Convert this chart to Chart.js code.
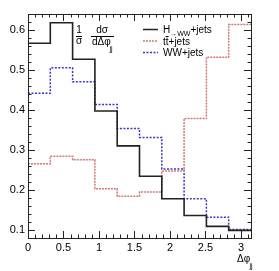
<!DOCTYPE html>
<html>
<head>
<meta charset="utf-8">
<script src="https://cdn.jsdelivr.net/npm/chart.js@4.4.1/dist/chart.umd.min.js"></script>
<style>
  body { margin: 0; background: #fff; }
</style>
</head>
<body>
<canvas id="grafica" width="279" height="271"></canvas>
<script>
// bordes de los bins en delta phi (0..pi, 10 bins)
const binEdges = [0, 0.1 * Math.PI, 0.2 * Math.PI, 0.3 * Math.PI, 0.4 * Math.PI, 0.5 * Math.PI,
  0.6 * Math.PI, 0.7 * Math.PI, 0.8 * Math.PI, 0.9 * Math.PI, Math.PI];

// valores normalizados
const higgsVals = [0.567, 0.618, 0.527, 0.398, 0.311, 0.235, 0.179, 0.137, 0.110, 0.100];
const ttbarVals = [0.266, 0.285, 0.276, 0.204, 0.185, 0.196, 0.248, 0.379, 0.532, 0.614];
const wwVals = [0.442, 0.506, 0.471, 0.414, 0.354, 0.332, 0.253, 0.179, 0.133, 0.102];

const xTickLabels = [0, 0.5, 1, 1.5, 2, 2.5, 3];
const yTickLabels = [0.1, 0.2, 0.3, 0.4, 0.5, 0.6];

const fuente = '"Liberation Sans", Arial, sans-serif';

// convierte un histograma en puntos para linea escalonada
function histo(vals) {
  return binEdges.map((e, i) => ({ x: e, y: vals[Math.min(i, vals.length - 1)] }));
}

// marcas hacia dentro en los cuatro lados, estilo ROOT
const marcasPlugin = {
  id: 'marcas',
  afterDatasetsDraw(chart) {
    const { ctx, chartArea: a, scales: { x, y } } = chart;
    ctx.save();
    ctx.strokeStyle = '#222';
    ctx.lineWidth = 1;
    ctx.beginPath();
    for (let i = 0; i <= 31; i++) {
      const px = Math.round(x.getPixelForValue(i / 10)) + 0.5;
      const l = i % 5 === 0 ? 7 : 3.5;
      ctx.moveTo(px, a.bottom); ctx.lineTo(px, a.bottom - l);
      ctx.moveTo(px, a.top); ctx.lineTo(px, a.top + l);
    }
    for (let i = 5; i <= 32; i++) {
      const py = Math.round(y.getPixelForValue(i / 50)) + 0.5;
      const l = i % 5 === 0 ? 7 : 3.5;
      ctx.moveTo(a.left, py); ctx.lineTo(a.left + l, py);
      ctx.moveTo(a.right, py); ctx.lineTo(a.right - l, py);
    }
    ctx.stroke();
    ctx.strokeRect(a.left + 0.5, a.top + 0.5, a.right - a.left, a.bottom - a.top);
    ctx.restore();
  }
};

// textos: fraccion del eje y, titulo del eje x y leyenda
const textosPlugin = {
  id: 'textos',
  afterDraw(chart) {
    const ctx = chart.ctx;
    ctx.save();
    ctx.fillStyle = '#000';
    ctx.strokeStyle = '#000';
    ctx.lineWidth = 1;
    ctx.textBaseline = 'alphabetic';

    // 1/sigma dsigma/dDeltaphi_jj
    ctx.font = '10px ' + fuente;
    ctx.textAlign = 'center';
    ctx.fillText('1', 79, 33);
    ctx.fillText('σ', 79, 44);
    ctx.fillText('dσ', 102, 33);
    ctx.beginPath();
    ctx.moveTo(76, 36.5); ctx.lineTo(82, 36.5);
    ctx.moveTo(91, 36.5); ctx.lineTo(114, 36.5);
    ctx.stroke();
    ctx.textAlign = 'left';
    ctx.fillText('dΔφ', 92, 45);
    ctx.font = '7px ' + fuente;
    ctx.fillText('jj', 109.5, 51);

    // titulo eje x
    ctx.font = '10px ' + fuente;
    ctx.fillText('Δφ', 237, 262);
    ctx.font = '7px ' + fuente;
    ctx.fillText('jj', 249.5, 268);

    // leyenda
    const filas = [
      { y: 29.5, color: '#222', dash: [] },
      { y: 41, color: '#d47878', dash: [2, 1] },
      { y: 52.5, color: '#3636c8', dash: [2, 1.5] }
    ];
    filas.forEach(f => {
      ctx.beginPath();
      ctx.setLineDash(f.dash);
      ctx.strokeStyle = f.color;
      ctx.lineWidth = 1.5;
      ctx.moveTo(143, f.y); ctx.lineTo(158, f.y);
      ctx.stroke();
    });
    ctx.setLineDash([]);
    ctx.strokeStyle = '#000';
    ctx.lineWidth = 1;

    const x0 = 163;
    // H->WW+jets
    ctx.font = '10px ' + fuente;
    ctx.fillText('H', x0, 33);
    let w = ctx.measureText('H').width;
    ctx.font = '7px ' + fuente;
    ctx.fillText('→WW', x0 + w, 36);
    w += ctx.measureText('→WW').width;
    ctx.font = '10px ' + fuente;
    ctx.fillText('+jets', x0 + w, 33);

    // tt+jets con barra
    ctx.fillText('tt+jets', x0, 44.5);
    const wt = ctx.measureText('t').width;
    ctx.beginPath();
    ctx.moveTo(x0 + wt, 36.5); ctx.lineTo(x0 + 2 * wt, 36.5);
    ctx.stroke();

    ctx.fillText('WW+jets', x0, 56);
    ctx.restore();
  }
};

const ctx = document.getElementById('grafica').getContext('2d');
new Chart(ctx, {
  type: 'line',
  data: {
    datasets: [
      { label: 'H→WW+jets', data: histo(higgsVals), borderColor: '#222', borderWidth: 1.6 },
      { label: 'tt+jets', data: histo(ttbarVals), borderColor: '#d47878', borderWidth: 1.5, borderDash: [2, 1] },
      { label: 'WW+jets', data: histo(wwVals), borderColor: '#3636c8', borderWidth: 1.5, borderDash: [2, 1.5] }
    ]
  },
  options: {
    responsive: false,
    devicePixelRatio: 1,
    animation: false,
    parsing: false,
    layout: { padding: { left: 0, top: 14, right: 28, bottom: 0 } },
    elements: {
      line: { stepped: true, fill: false, tension: 0 },
      point: { radius: 0 }
    },
    plugins: { legend: { display: false }, tooltip: { enabled: false } },
    scales: {
      x: {
        type: 'linear',
        min: 0,
        max: Math.PI,
        grid: { display: false, drawTicks: false },
        border: { display: false },
        afterFit: s => { s.height = 33; },
        afterBuildTicks: s => { s.ticks = xTickLabels.map(v => ({ value: v })); },
        ticks: {
          padding: 3,
          maxRotation: 0,
          autoSkip: false,
          color: '#000',
          font: { family: fuente, size: 11 },
          callback: v => String(v)
        }
      },
      y: {
        type: 'linear',
        min: 0.081,
        max: 0.64,
        grid: { display: false, drawTicks: false },
        border: { display: false },
        afterFit: s => { s.width = 28; },
        afterBuildTicks: s => { s.ticks = yTickLabels.map(v => ({ value: v })); },
        ticks: {
          padding: 3,
          autoSkip: false,
          color: '#000',
          font: { family: fuente, size: 11 },
          callback: v => String(v)
        }
      }
    }
  },
  plugins: [marcasPlugin, textosPlugin]
});
</script>
</body>
</html>
